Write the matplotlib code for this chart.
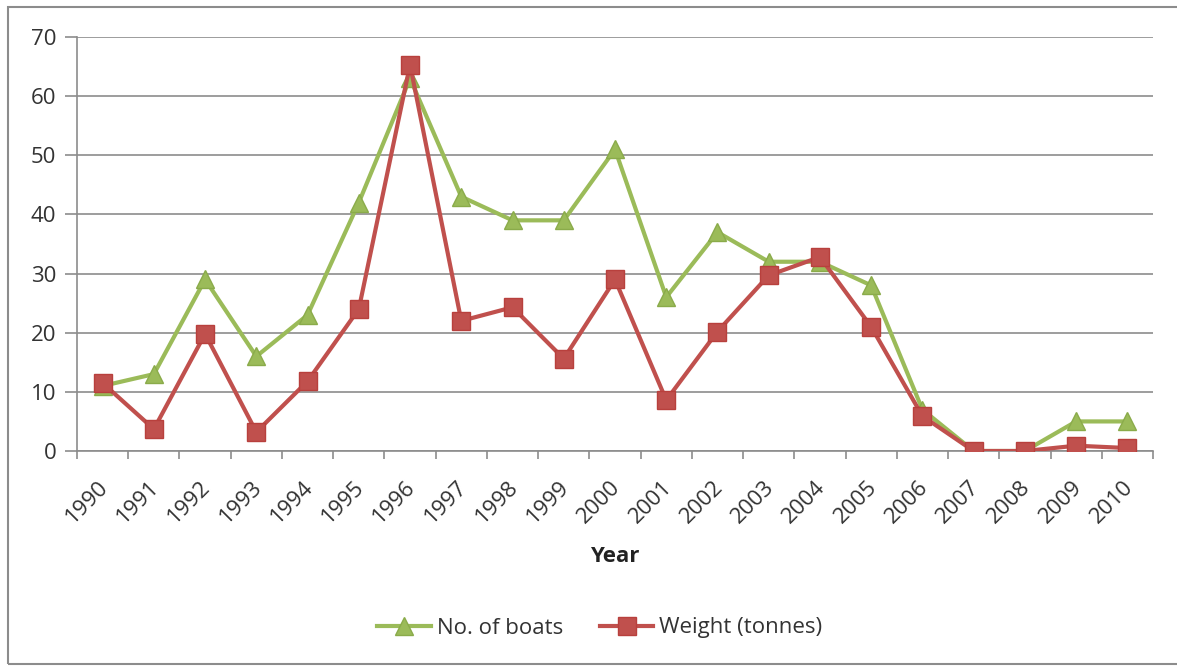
import matplotlib
matplotlib.use("Agg")
import matplotlib.pyplot as plt
from matplotlib.patches import Rectangle
from matplotlib.lines import Line2D
from matplotlib.transforms import ScaledTranslation

years = ["1990", "1991", "1992", "1993", "1994", "1995", "1996", "1997", "1998", "1999",
         "2000", "2001", "2002", "2003", "2004", "2005", "2006", "2007", "2008", "2009", "2010"]
boats = [11, 13, 29, 16, 23, 42, 63, 43, 39, 39, 51, 26, 37, 32, 32, 28, 7, 0, 0, 5, 5]
weight = [11.5, 3.7, 19.8, 3.2, 11.8, 24, 65.3, 22, 24.3, 15.6, 29, 8.6, 20.2, 29.7, 32.8,
          21, 5.9, 0, 0, 0.9, 0.5]
y_ticks = [0, 10, 20, 30, 40, 50, 60, 70]

plt.rcParams['font.family'] = ['Open Sans', 'DejaVu Sans']

W, H = 1177, 666
fig = plt.figure(figsize=(W / 100, H / 100), dpi=100)
fig.patch.set_facecolor('white')

# chart-area frame
fig.patches.append(Rectangle((8 / W, 2 / H), 1.2, (H - 9) / H, transform=fig.transFigure,
                             fill=False, edgecolor='#8c8c8c', linewidth=1.5))

ax = fig.add_axes([77 / W, 1 - 451 / H, (1153 - 77) / W, (451 - 37) / H])
x = list(range(len(years)))

green = '#9BBB59'
red = '#C0504D'
line_kw = dict(linewidth=3, markersize=12.5, zorder=3)
ax.plot(x, boats, color=green, marker='^', markerfacecolor=green,
        markeredgecolor='#8aab4a', label='No. of boats', **line_kw)
ax.plot(x, weight, color=red, marker='s', markerfacecolor=red,
        markeredgecolor='#b8403d', label='Weight (tonnes)', **line_kw)

ax.set_xlim(-0.5, len(years) - 0.5)
ax.set_ylim(0, 70)
ax.set_yticks(y_ticks)
ax.set_yticklabels([str(v) for v in y_ticks], fontsize=16, color='#333333')
ax.yaxis.grid(True, color='#8c8c8c', linewidth=1.2)
ax.set_axisbelow(True)
ax.tick_params(axis='y', length=9, color='#8c8c8c', width=1.2, pad=6)

ax.set_xticks(x)
ax.set_xticklabels(years, rotation=45, ha='right', va='top', rotation_mode='anchor',
                   fontsize=16, color='#333333')
ax.tick_params(axis='x', length=0, pad=9)
shift = ScaledTranslation(-5 / 100, -13 / 100, fig.dpi_scale_trans)
for lbl in ax.get_xticklabels():
    lbl.set_transform(lbl.get_transform() + shift)
ax.set_xticks([i - 0.5 for i in range(len(years) + 1)], minor=True)
ax.tick_params(axis='x', which='minor', length=6, color='#8c8c8c', width=1.2)

for s in ['top', 'right']:
    ax.spines[s].set_visible(False)
for s in ['left', 'bottom']:
    ax.spines[s].set_color('#8c8c8c')
    ax.spines[s].set_linewidth(1.2)

fig.text(615 / W, 1 - 556 / H, 'Year', ha='center', va='center', fontsize=16,
         fontweight='bold', color='#222222')

handles = [
    Line2D([], [], color=green, linewidth=3, marker='^', markersize=12.5,
           markerfacecolor=green, markeredgecolor='#8aab4a'),
    Line2D([], [], color=red, linewidth=3, marker='s', markersize=12.5,
           markerfacecolor=red, markeredgecolor='#b8403d'),
]
fig.legend(handles, ['No. of boats', 'Weight (tonnes)'], loc='center',
           bbox_to_anchor=(600 / W, 1 - 628 / H), ncol=2, frameon=False,
           fontsize=16, handlelength=2.4, handletextpad=0.27, columnspacing=1.67,
           labelcolor='#333333')

fig.savefig('out.png', dpi=100, facecolor='white')
